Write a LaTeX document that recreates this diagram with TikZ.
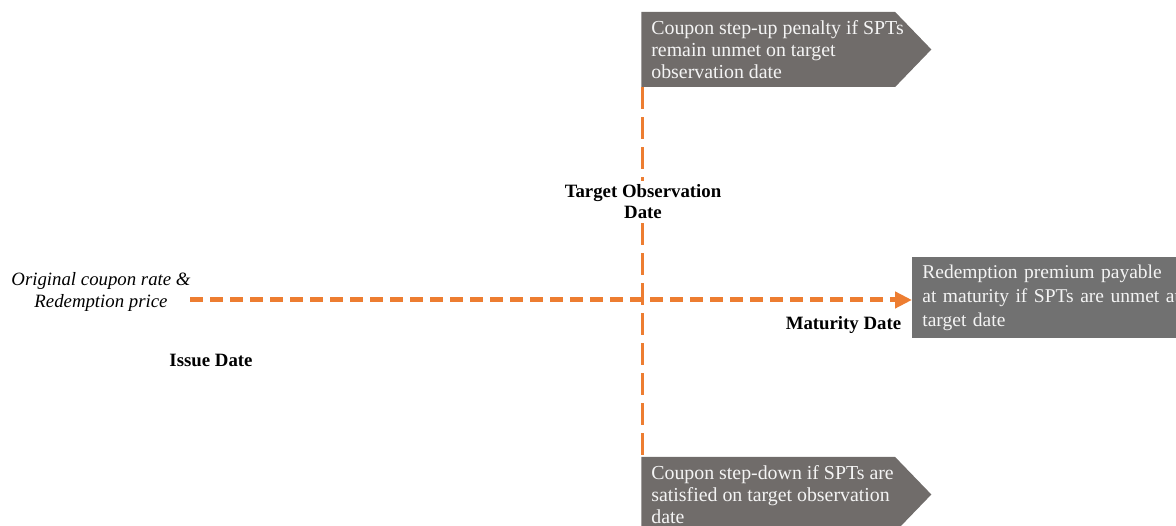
\documentclass[tikz,border=0pt]{standalone}
\usepackage{fontspec}
\setmainfont{Liberation Serif}
\usetikzlibrary{arrows.meta, positioning, shapes.symbols}

\definecolor{dateorange}{HTML}{ED7D31}
\definecolor{flaggray}{HTML}{706C6A}
\definecolor{boxgray}{HTML}{717171}
\definecolor{flagtext}{HTML}{F4F4F4}

\tikzset{
  flag/.style={shape=signal, signal to=east, signal pointer angle=92,
    fill=flaggray, minimum width=5.8cm, minimum height=1.5cm, inner sep=0pt, anchor=west},
  flagtext/.style={text=flagtext, align=left, anchor=west, inner sep=0pt,
    font=\fontsize{11.3}{12.5}\selectfont},
  datelabel/.style={font=\fontsize{10.7}{12}\selectfont\bfseries, align=center, inner sep=2pt},
  timeline/.style={draw=dateorange, line width=0.1cm, dash pattern=on 0.26cm off 0.14cm},
  obsline/.style={draw=dateorange, line width=0.06cm, dash pattern=on 0.44cm off 0.16cm}
}

\begin{document}
\begin{tikzpicture}
  \useasboundingbox (0,0) rectangle (23.52,10.52);

  % flags above and below the observation date
  \node[flag] (up) at (12.82,9.53) {};
  \node[flagtext] (upText) [right=0.2cm of up.west]
    {Coupon step-up penalty if SPTs\\ remain unmet on target\\ observation date};
  \node[flag] (down) at (12.82,0.63) {};
  \node[flagtext] (downText) [right=0.2cm of down.west]
    {Coupon step-down if SPTs are\\ satisfied on target observation\\ date};

  % box at the end of the timeline
  \node[fill=boxgray, text=flagtext, align=left, text width=6.4cm, inner xsep=0.2cm,
    minimum height=1.62cm, anchor=north west, font=\fontsize{11.1}{13.6}\selectfont]
    (redeem) at (18.24,5.38)
    {Redemption premium payable\\ at maturity if SPTs are unmet at\\ target date};

  \node[font=\fontsize{10.7}{12.5}\selectfont\itshape, align=center] (orig) at (2.02,4.68)
    {Original coupon rate \&\\ Redemption price};

  \coordinate (issue) at (3.8,4.52);
  \coordinate (obs) at (12.84,4.52);

  \node[datelabel] (target) at (12.86,6.48) {Target Observation\\ Date};
  \node[datelabel] (issueDate) at (4.22,3.32) {Issue Date};
  \node[datelabel, anchor=east] (maturity) at (18.1,4.02) {Maturity Date};

  % dashed date lines
  \draw[obsline] (obs |- up.south) -- (obs |- target.north);
  \draw[obsline] (obs |- target.south) -- (obs |- down.north);
  \draw[timeline, -{Triangle[length=0.34cm, width=0.32cm]}] (issue) -- (issue -| redeem.west);
\end{tikzpicture}
\end{document}
